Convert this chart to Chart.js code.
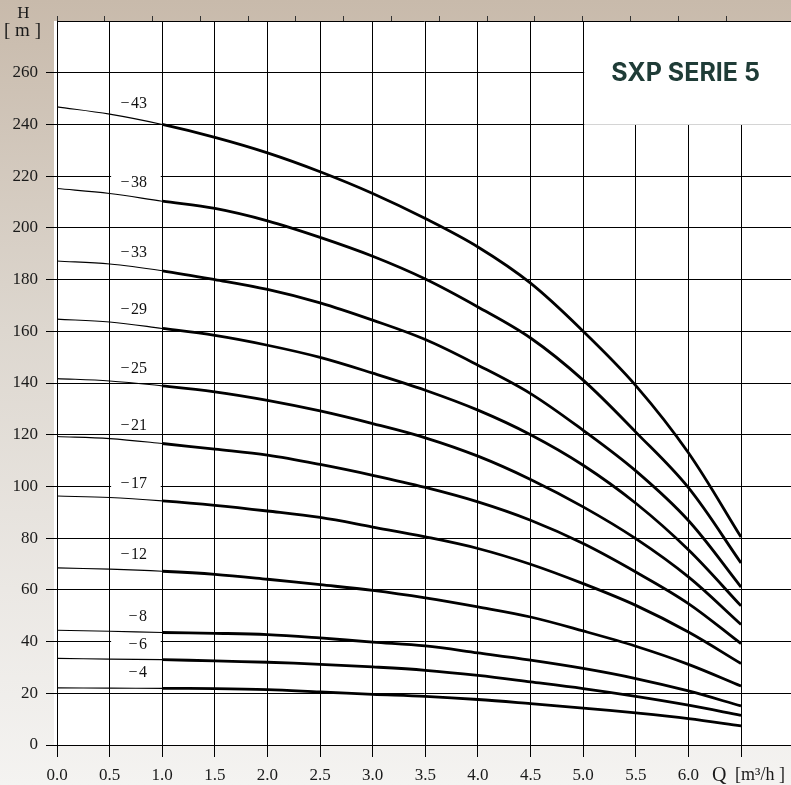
<!DOCTYPE html>
<html><head><meta charset="utf-8">
<script src="https://cdn.jsdelivr.net/npm/chart.js@4.4.1/dist/chart.umd.min.js"></script>
<style>html,body{margin:0;padding:0;background:#f2f1ef;} #wrap{width:791px;height:785px;position:relative;overflow:hidden}</style>
</head><body><div id="wrap"><canvas id="c" width="791" height="785"></canvas></div>
<script>
// ---- data ----
const flowQ = [0, 0.5, 1, 1.5, 2, 2.5, 3, 3.5, 4, 4.5, 5, 5.5, 6, 6.5];
const stageLabels = ['43', '38', '33', '29', '25', '21', '17', '12', '8', '6', '4'];
const head43 = [246.8, 244.0, 240.0, 235.0, 229.0, 221.7, 213.3, 203.6, 192.6, 178.6, 160.0, 139.0, 113.0, 80.4];
const head38 = [215.2, 213.3, 210.3, 207.5, 202.7, 196.3, 189.0, 180.2, 169.4, 157.4, 141.1, 121.0, 99.5, 70.4];
const head33 = [187.2, 186.0, 183.4, 180.0, 176.2, 171.0, 164.3, 156.8, 146.9, 135.9, 121.7, 106.0, 86.8, 61.1];
const head29 = [164.7, 163.6, 161.1, 158.4, 154.6, 149.9, 143.8, 137.2, 129.5, 120.0, 108.2, 93.5, 75.5, 53.8];
const head25 = [141.7, 140.8, 138.9, 136.6, 133.3, 129.2, 124.3, 118.8, 111.7, 102.7, 92.1, 79.8, 65.0, 46.6];
const head21 = [119.3, 118.5, 116.6, 114.4, 112.1, 108.5, 104.3, 99.6, 94.0, 86.9, 77.9, 66.9, 54.7, 39.2];
const head17 = [96.3, 95.7, 94.4, 92.7, 90.5, 88.0, 84.3, 80.5, 76.0, 69.9, 62.4, 54.0, 43.7, 31.5];
const head12 = [68.5, 68.0, 67.2, 66.0, 64.1, 62.0, 59.8, 56.9, 53.4, 49.5, 44.1, 38.2, 31.2, 22.8];
const head8  = [44.4, 44.0, 43.5, 43.2, 42.7, 41.4, 39.8, 38.3, 35.6, 32.8, 29.6, 25.7, 20.9, 15.1];
const head6  = [33.5, 33.2, 33.0, 32.5, 32.0, 31.2, 30.2, 28.9, 26.9, 24.4, 21.8, 18.8, 15.4, 11.5];
const head4  = [22.1, 22.0, 21.9, 21.8, 21.4, 20.5, 19.6, 18.8, 17.6, 16.0, 14.3, 12.4, 10.2, 7.4];
const heads = [head43, head38, head33, head29, head25, head21, head17, head12, head8, head6, head4];
const xTickValues = [0, 0.5, 1, 1.5, 2, 2.5, 3, 3.5, 4, 4.5, 5, 5.5, 6, 6.5];
const yTickValues = [0, 20, 40, 60, 80, 100, 120, 140, 160, 180, 200, 220, 240, 260];
const topTicksGpm = [0, 2, 4, 6, 8, 10, 12, 14, 16, 18, 20, 22, 24, 26, 28];
const GPM_TO_M3H = 0.2271;
const chartTitle = 'SXP SERIE 5';
const yTitle1 = 'H', yTitle2 = '[ m ]';
const xTitle1 = 'Q', xTitle2 = '[m\u00B3/h ]';

const SERIF = '"Liberation Serif", "DejaVu Serif", serif';
const THIN = 1.1, THICK = 2.8;

const decor = {
  id: 'decor',
  beforeDraw(chart) {
    const ctx = chart.ctx, a = chart.chartArea;
    ctx.save();
    const g = ctx.createLinearGradient(0, 0, 0, chart.height);
    g.addColorStop(0, '#c8baab');
    g.addColorStop(0.42, '#ddd7cf');
    g.addColorStop(0.75, '#ebe8e4');
    g.addColorStop(1, '#f4f3f1');
    ctx.fillStyle = g;
    ctx.fillRect(0, 0, chart.width, chart.height);
    ctx.fillStyle = '#ffffff';
    ctx.fillRect(a.left - 3, a.top, a.right - a.left + 3, a.bottom - a.top);
    ctx.restore();
  },
  beforeDatasetsDraw(chart) {
    const ctx = chart.ctx, xs = chart.scales.x, ys = chart.scales.y;
    ctx.save();
    ctx.fillStyle = '#ffffff';
    const x0 = xs.getPixelForValue(0.5) + 1.5, x1 = xs.getPixelForValue(1.0) - 1.5;
    heads.forEach(h => {
      const yc = ys.getPixelForValue((h[1] + h[2]) / 2) - 15;
      ctx.fillRect(x0, yc - 8, x1 - x0, 16);
    });
    ctx.restore();
  },
  afterDatasetsDraw(chart) {
    const ctx = chart.ctx, xs = chart.scales.x, ys = chart.scales.y;
    ctx.save();
    ctx.fillStyle = '#111';
    ctx.font = '16px ' + SERIF;
    ctx.textAlign = 'right';
    ctx.textBaseline = 'middle';
    const xr = xs.getPixelForValue(0.855);
    heads.forEach((h, i) => {
      const yc = ys.getPixelForValue((h[1] + h[2]) / 2) - 15;
      ctx.fillText('\u2212\u200A' + stageLabels[i], xr, yc);
    });
    ctx.restore();
  },
  afterDraw(chart) {
    const ctx = chart.ctx, a = chart.chartArea, xs = chart.scales.x, ys = chart.scales.y;
    ctx.save();
    // title box
    const bx = xs.getPixelForValue(5.0) + 1;
    const by = Math.round(ys.getPixelForValue(240));
    ctx.fillStyle = '#ffffff';
    ctx.fillRect(bx, a.top + 1, chart.width - bx, by - a.top - 1);
    ctx.fillStyle = '#d4d4d4';
    ctx.fillRect(bx, by, chart.width - bx, 1);
    ctx.fillStyle = '#1f3c37';
    ctx.font = '700 25px Inter, "Noto Sans", sans-serif';
    ctx.textAlign = 'center';
    ctx.textBaseline = 'middle';
    ctx.fillText(chartTitle, (bx + chart.width) / 2 - 2, (a.top + by) / 2 + 1);
    // axis titles
    ctx.fillStyle = '#1a1a1a';
    ctx.font = '17px ' + SERIF;
    ctx.textAlign = 'center';
    ctx.textBaseline = 'alphabetic';
    ctx.fillText(yTitle1, 23.5, 18);
    ctx.font = '19px ' + SERIF;
    ctx.fillText(yTitle2, 22.5, 36);
    ctx.textAlign = 'left';
    ctx.font = '20px ' + SERIF;
    ctx.fillText(xTitle1, 712, 781);
    ctx.font = '18px ' + SERIF;
    ctx.fillText(xTitle2, 735, 780);
    ctx.restore();
  }
};

const datasets = stageLabels.map((s, i) => ({
  label: '-' + s,
  data: flowQ.map((q, j) => ({ x: q, y: heads[i][j] })),
  borderColor: '#000',
  borderWidth: THICK,
  pointRadius: 0,
  tension: 0.35,
  segment: { borderWidth: c => (c.p1.parsed.x <= 1 ? THIN : THICK) }
}));

new Chart(document.getElementById('c'), {
  type: 'line',
  data: { datasets },
  plugins: [decor],
  options: {
    responsive: false,
    animation: false,
    devicePixelRatio: 1,
    layout: { padding: 0 },
    plugins: { legend: { display: false }, tooltip: { enabled: false } },
    scales: {
      x: {
        type: 'linear', position: 'bottom', min: 0, max: 6.975,
        afterBuildTicks: s => { s.ticks = xTickValues.map(v => ({ value: v })); },
        afterFit: s => { s.height = 40; },
        ticks: {
          callback: v => (v === 6.5 ? '' : v.toFixed(1)),
          font: { family: SERIF, size: 17 }, color: '#1a1a1a',
          maxRotation: 0, autoSkip: false, padding: 8
        },
        grid: { color: '#000', lineWidth: 1, tickLength: 12 },
        border: { display: true, color: '#000' }
      },
      x2: {
        type: 'linear', position: 'top', min: 0, max: 6.975,
        afterBuildTicks: s => { s.ticks = topTicksGpm.map(g => ({ value: g * GPM_TO_M3H })); },
        afterFit: s => { s.height = 21; },
        ticks: { display: false },
        grid: { drawOnChartArea: false, tickLength: 5, color: '#333' },
        border: { display: true, color: '#000' }
      },
      y: {
        type: 'linear', position: 'left', min: 0, max: 280,
        afterBuildTicks: s => { s.ticks = yTickValues.map(v => ({ value: v })); },
        afterFit: s => { s.width = 57; },
        ticks: {
          callback: v => String(v),
          font: { family: SERIF, size: 17 }, color: '#1a1a1a', padding: 8
        },
        grid: { color: '#000', lineWidth: 1, tickLength: 11 },
        border: { display: true, color: '#000' }
      }
    }
  }
});
</script>
</body></html>
